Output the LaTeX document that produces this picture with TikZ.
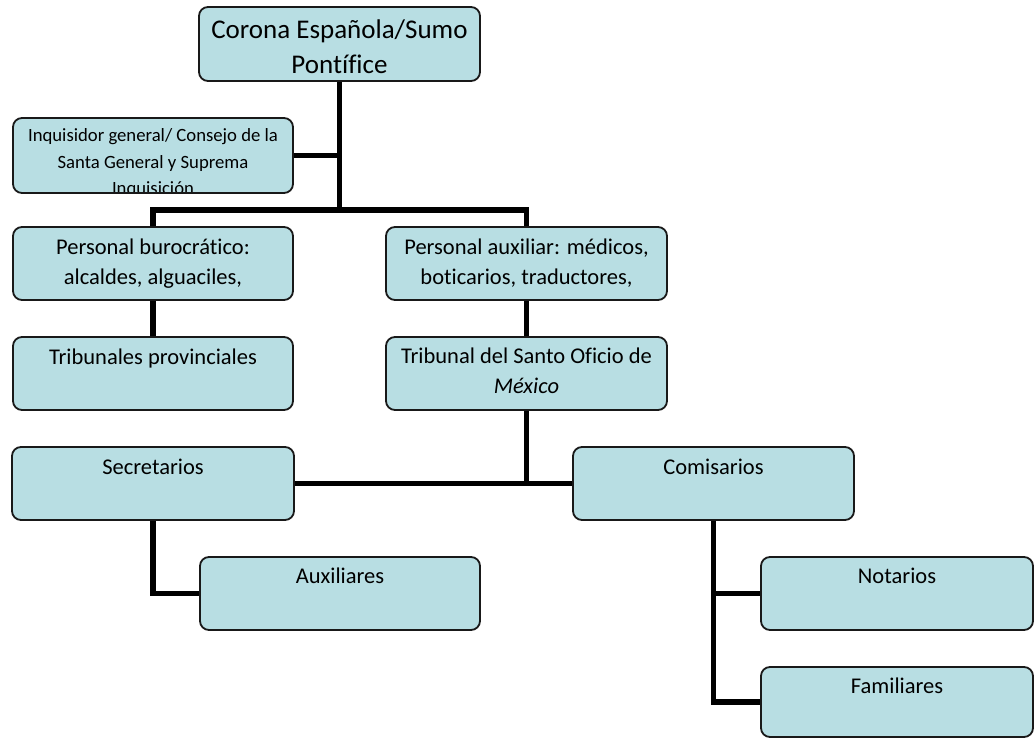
\documentclass[tikz,border=0pt]{standalone}
\usepackage{fontspec}
\setmainfont[Ligatures=NoCommon]{Carlito}
\definecolor{boxfill}{RGB}{184,222,227}
\definecolor{boxline}{RGB}{25,25,25}
\newcommand\bxt[4]{\parbox[c][#2][t]{#1}{\centering\vspace*{#3}#4\par}}
\tikzset{
  orgbox/.style={draw=boxline, fill=boxfill, line width=1.8pt, rounded corners=9pt, inner sep=0pt},
  conn/.style={line width=5.8pt, black, line join=miter},
}
\begin{document}
\begin{tikzpicture}[x=1pt,y=-1pt]
\useasboundingbox (0,0) rectangle (1035,738);
\coordinate (j1) at (339.5,210);
% boxes
\node[orgbox] (corona) at (339.5,44) {\bxt{281pt}{74pt}{7.2pt}{\fontsize{27}{35}\selectfont\strut Corona Española/Sumo\\\strut Pontífice}};
\node[orgbox, minimum width=280pt, minimum height=75pt,
  path picture={\node[anchor=north, inner sep=0pt] (inqtext) at (path picture bounding box.north)
   {\bxt{280pt}{75pt}{4.2pt}{\fontsize{18.7}{26.5}\selectfont\strut Inquisidor general/ Consejo de la\\\strut Santa General y Suprema\\\strut Inquisición}};}]
  (inq) at (153,155.5) {};
\node[orgbox] (pbur) at (153,263.5) {\bxt{280pt}{73pt}{7pt}{\fontsize{22.5}{29.5}\selectfont\strut Personal burocrático:\\\strut alcaldes, alguaciles,}};
\node[orgbox] (paux) at (526.5,263.5) {\bxt{281pt}{73pt}{7pt}{\fontsize{22.5}{29.5}\selectfont\strut Personal auxiliar: médicos,\\\strut boticarios, traductores,}};
\node[orgbox] (trib) at (153,373.5) {\bxt{280pt}{73pt}{6.6pt}{\fontsize{22.5}{29.5}\selectfont\strut Tribunales provinciales}};
\node[orgbox] (tsom) at (526.5,373.5) {\bxt{281pt}{73pt}{6pt}{\fontsize{22.5}{29.5}\selectfont\strut Tribunal del Santo Oficio de\\\strut \textit{México}}};
\node[orgbox] (secr) at (153,483.5) {\bxt{282pt}{73pt}{6.4pt}{\fontsize{22.5}{29.5}\selectfont\strut Secretarios}};
\node[orgbox] (comi) at (713.5,483.5) {\bxt{281pt}{73pt}{6.4pt}{\fontsize{22.5}{29.5}\selectfont\strut Comisarios}};
\node[orgbox] (auxi) at (340,593.5) {\bxt{280pt}{73pt}{5.6pt}{\fontsize{22.5}{29.5}\selectfont\strut Auxiliares}};
\node[orgbox] (nota) at (897,593.5) {\bxt{272pt}{73pt}{5.6pt}{\fontsize{22.5}{29.5}\selectfont\strut Notarios}};
\node[orgbox] (fami) at (897,702) {\bxt{272pt}{70pt}{5.6pt}{\fontsize{22.5}{29.5}\selectfont\strut Familiares}};
% connectors
\draw[conn] (corona.south) -- (j1);
\draw[conn] (inq.east) -- (inq.east -| corona.south);
\draw[conn] (pbur.north) |- (j1) -| (paux.north);
\draw[conn] (pbur.south) -- (trib.north);
\draw[conn] (paux.south) -- (tsom.north);
\draw[conn] (tsom.south) -- (tsom.south |- secr.east);
\draw[conn] (secr.east) -- (comi.west);
\draw[conn] (secr.south) |- (auxi.west);
\draw[conn] (comi.south) |- (nota.west);
\draw[conn] (comi.south) |- (fami.west);
\end{tikzpicture}
\end{document}
